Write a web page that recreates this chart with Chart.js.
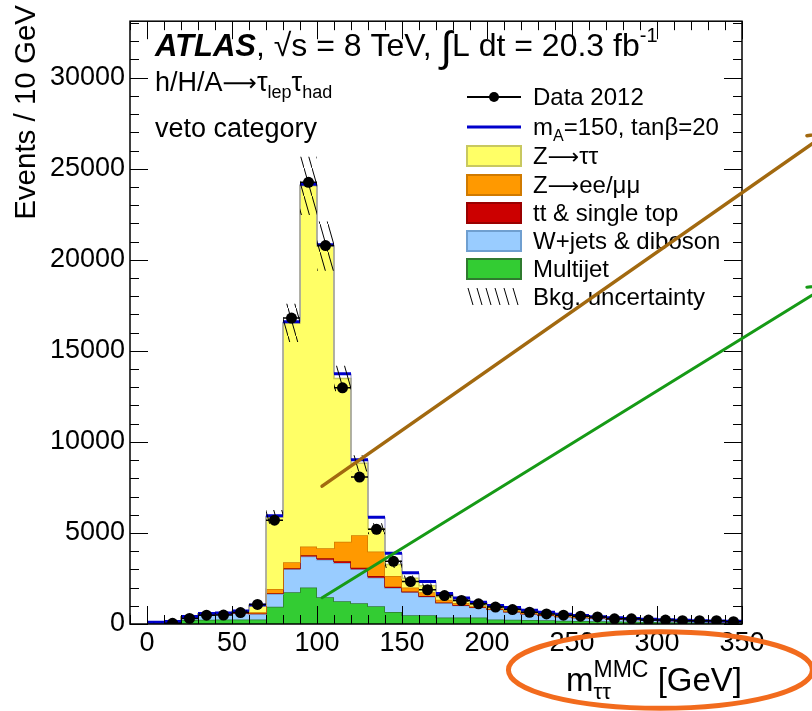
<!DOCTYPE html>
<html lang="en">
<head>
<meta charset="UTF-8" />
<title>h/H/A → τlep τhad, veto category</title>
<script src="https://cdn.jsdelivr.net/npm/chart.js@4"></script>
<style>
  html, body { margin: 0; padding: 0; background: #fff; }
  #wrap { width: 812px; height: 711px; position: relative; }
</style>
</head>
<body>
<div id="wrap"><canvas id="plot"></canvas></div>
<script>
  // 10 GeV bins
  const binEdges = [0, 10, 20, 30, 40, 50, 60, 70, 80, 90, 100, 110, 120, 130, 140, 150, 160, 170,
    180, 190, 200, 210, 220, 230, 240, 250, 260, 270, 280, 290, 300, 310, 320, 330, 340, 350];

  // background components, per bin (bottom of the stack first)
  const multijet = [0, 30, 215, 230, 250, 250, 250, 950, 1740, 2010, 1470, 1255, 1146, 970, 660, 480, 480, 360,
    360, 360, 250, 230, 220, 200, 180, 160, 150, 140, 120, 110, 100, 90, 80, 70, 60];
  const wjets = [90, 80, 145, 290, 280, 350, 310, 700, 1260, 1700, 2060, 2095, 1854, 1575, 1310, 1260, 1020, 790,
    660, 540, 540, 430, 330, 270, 220, 190, 160, 130, 120, 100, 85, 75, 65, 60, 55];
  const ttbar = [0, 0, 5, 5, 5, 10, 15, 40, 60, 70, 80, 90, 90, 90, 70, 50, 40, 30,
    25, 20, 15, 15, 10, 10, 10, 10, 5, 5, 5, 5, 5, 5, 5, 5, 5];
  const zll = [0, 10, 15, 15, 25, 30, 65, 230, 330, 470, 550, 1075, 1790, 1345, 600, 210, 200, 150,
    105, 60, 45, 55, 60, 50, 40, 30, 25, 20, 15, 10, 10, 5, 5, 5, 5];
  const ztautau = [0, 10, 20, 20, 30, 60, 390, 3960, 13140, 19810, 16590, 8960, 3940, 1255, 630, 510, 360, 170,
    140, 95, 70, 90, 60, 60, 50, 40, 30, 25, 20, 20, 15, 15, 10, 10, 10];
  // signal mA=150, tanb=20, stacked on top
  const signal = [10, 10, 10, 10, 10, 10, 20, 70, 70, 90, 80, 270, 200, 625, 620, 300, 230, 180,
    140, 125, 100, 80, 70, 55, 40, 30, 25, 20, 20, 15, 15, 10, 10, 10, 10];
  // total background uncertainty (absolute)
  const bkgUnc = [10, 15, 30, 40, 40, 50, 70, 380, 1050, 1600, 1350, 700, 450, 300, 200, 150, 120, 90,
    80, 65, 55, 50, 40, 35, 30, 26, 22, 20, 17, 15, 13, 12, 10, 9, 8];

  // data 2012
  const dataMass = [15, 25, 35, 45, 55, 65, 75, 85, 95, 105, 115, 125, 135, 145, 155, 165, 175,
    185, 195, 205, 215, 225, 235, 245, 255, 265, 275, 285, 295, 305, 315, 325, 335, 345];
  const dataEvents = [40, 306, 484, 490, 630, 1075, 5700, 16800, 24250, 20780, 12970, 8070, 5200, 3440, 2330, 1880, 1560,
    1290, 1110, 930, 790, 645, 555, 484, 430, 390, 285, 285, 215, 215, 180, 180, 180, 125];

  const xTickLabels = [0, 50, 100, 150, 200, 250, 300, 350];
  const yTickLabels = [0, 5000, 10000, 15000, 20000, 25000, 30000];

  const FONT = '"Liberation Sans", Arial, Helvetica, sans-serif';
  const ARROWFONT = '"DejaVu Sans", sans-serif';
  const ARROW = '⟶';
  const nb = binEdges.length - 1;
  const halfBin = 5;

  // cumulative stack
  const components = [multijet, wjets, ttbar, zll, ztautau];
  const cum = [];
  let run = new Array(nb).fill(0);
  components.forEach(c => { run = run.map((v, i) => v + c[i]); cum.push(run); });
  const totalBkg = cum[cum.length - 1];
  const totalSig = totalBkg.map((v, i) => v + signal[i]);

  function stepPoints(arr) {
    const pts = arr.map((v, i) => ({ x: binEdges[i], y: v }));
    pts.push({ x: binEdges[nb], y: arr[nb - 1] });
    return pts;
  }
  function flatTops(arr) {
    const pts = [];
    arr.forEach((v, i) => {
      pts.push({ x: binEdges[i], y: v }, { x: binEdges[i + 1], y: v }, { x: binEdges[i + 1], y: null });
    });
    return pts;
  }

  const ctx = document.getElementById('plot').getContext('2d');

  function makeHatch() {
    const c = document.createElement('canvas');
    c.width = 8; c.height = 28;
    const g = c.getContext('2d');
    g.strokeStyle = '#000';
    g.lineWidth = 1;
    g.beginPath();
    g.moveTo(-8, -28); g.lineTo(16, 56);
    g.stroke();
    return ctx.createPattern(c, 'repeat');
  }

  const stackStyle = [
    { label: 'Multijet', bg: '#33cc33', bd: '#2f7a2f' },
    { label: 'W+jets & diboson', bg: '#99ccff', bd: '#6f9fd0' },
    { label: 'tt & single top', bg: '#cc0000', bd: '#990000' },
    { label: 'Z→ee/μμ', bg: '#ff9900', bd: '#d07a00' },
    { label: 'Z→ττ', bg: '#ffff66', bd: '#c8c860' }
  ];

  const datasets = stackStyle.map((s, k) => ({
    label: s.label,
    data: stepPoints(cum[k]),
    stepped: true,
    fill: k === 0 ? 'origin' : '-1',
    backgroundColor: s.bg,
    borderColor: s.bd,
    borderWidth: 1.5,
    pointRadius: 0,
    order: 10 - k
  }));

  datasets.push({
    label: 'signal edges', data: stepPoints(totalSig), stepped: true, fill: false,
    borderColor: '#8c8cc8', borderWidth: 1, pointRadius: 0, order: 5
  });
  datasets.push({
    label: 'mA=150, tanb=20', data: flatTops(totalSig), fill: false, spanGaps: false,
    borderColor: '#0000cc', borderWidth: 3, pointRadius: 0, order: 4
  });
  datasets.push({
    label: 'unc low', data: stepPoints(totalBkg.map((v, i) => v - bkgUnc[i])), stepped: true, fill: false,
    borderWidth: 0, borderColor: 'rgba(0,0,0,0)', pointRadius: 0, order: 3
  });
  datasets.push({
    label: 'Bkg. uncertainty', data: stepPoints(totalBkg.map((v, i) => v + bkgUnc[i])), stepped: true, fill: '-1',
    backgroundColor: makeHatch(), borderWidth: 0, borderColor: 'rgba(0,0,0,0)', pointRadius: 0, order: 3
  });
  // data x-error bars
  const errPts = [];
  dataMass.forEach((m, i) => {
    errPts.push({ x: m - halfBin, y: dataEvents[i] }, { x: m + halfBin, y: dataEvents[i] }, { x: m + halfBin, y: null });
  });
  datasets.push({
    label: 'data err', data: errPts, fill: false, spanGaps: false,
    borderColor: '#000', borderWidth: 1.5, pointRadius: 0, order: 1
  });
  datasets.push({
    label: 'Data 2012', data: dataMass.map((m, i) => ({ x: m, y: dataEvents[i] })),
    showLine: false, pointRadius: 5.5, pointBackgroundColor: '#000', pointBorderColor: '#000',
    pointBorderWidth: 0, order: 0
  });

  function textRuns(c, x, y, parts) {
    parts.forEach(p => {
      c.font = (p.style || '') + ' ' + p.size + 'px ' + (p.fam || FONT);
      c.fillText(p.t, x, y + (p.dy || 0));
      x += c.measureText(p.t).width;
    });
    return x;
  }

  const framePlugin = {
    id: 'frame',
    afterDatasetsDraw(chart) {
      const c = chart.ctx, a = chart.chartArea;
      const xs = chart.scales.x, ys = chart.scales.y;
      c.save();
      c.strokeStyle = '#000';
      c.lineWidth = 1.5;
      c.strokeRect(a.left, a.top, a.right - a.left, a.bottom - a.top);
      c.lineWidth = 1;
      c.beginPath();
      for (let v = -10; v <= 350; v += 10) {
        const px = Math.round(xs.getPixelForValue(v)) + 0.5;
        const len = xTickLabels.includes(v) ? 18 : 9;
        c.moveTo(px, a.bottom); c.lineTo(px, a.bottom - len);
        c.moveTo(px, a.top); c.lineTo(px, a.top + len);
      }
      for (let v = 0; v <= ys.max; v += 1000) {
        const py = Math.round(ys.getPixelForValue(v)) + 0.5;
        const len = yTickLabels.includes(v) ? 18 : 9;
        c.moveTo(a.left, py); c.lineTo(a.left + len, py);
        c.moveTo(a.right, py); c.lineTo(a.right - len, py);
      }
      c.stroke();
      c.restore();
    },
    afterDraw(chart) {
      const c = chart.ctx, a = chart.chartArea;
      const xs = chart.scales.x, ys = chart.scales.y;
      c.save();
      c.fillStyle = '#000';
      c.textBaseline = 'alphabetic';

      // y axis title
      c.save();
      c.translate(35, 5);
      c.rotate(-Math.PI / 2);
      c.textAlign = 'right';
      c.font = '29.5px ' + FONT;
      c.fillText('Events / 10 GeV', 0, 0);
      c.restore();

      // labels top-left
      textRuns(c, 155, 56, [
        { t: 'ATLAS', size: 31, style: 'italic bold' },
        { t: ', √s = 8 TeV, ', size: 32 },
        { t: '∫', size: 42, dy: 5 },
        { t: 'L dt = 20.3 fb', size: 32 },
        { t: '-1', size: 20, dy: -14 }
      ]);
      textRuns(c, 155, 91, [
        { t: 'h/H/A', size: 27 }, { t: ARROW, size: 24, fam: ARROWFONT }, { t: 'τ', size: 27 }, { t: 'lep', size: 18, dy: 7 },
        { t: 'τ', size: 27 }, { t: 'had', size: 18, dy: 7 }
      ]);
      textRuns(c, 155, 137, [{ t: 'veto category', size: 27 }]);

      // x axis title
      c.font = '33px ' + FONT;
      const w1 = c.measureText(' [GeV]').width;
      const wm = c.measureText('m').width;
      c.font = '23px ' + FONT;
      const wSup = c.measureText('MMC').width;
      const xStart = a.right - w1 - wSup - wm;
      textRuns(c, xStart, 691, [{ t: 'm', size: 33 }]);
      textRuns(c, xStart + wm, 699, [{ t: 'ττ', size: 22 }]);
      textRuns(c, xStart + wm, 677, [{ t: 'MMC', size: 23 }]);
      textRuns(c, xStart + wm + wSup, 691, [{ t: ' [GeV]', size: 33 }]);

      // legend
      const rows = [97, 127, 156, 185, 213, 241, 269, 297];
      const x0 = 467, x1 = 521, tx = 533;
      c.lineWidth = 2;
      c.strokeStyle = '#000';
      c.beginPath(); c.moveTo(x0, rows[0]); c.lineTo(x1, rows[0]); c.stroke();
      c.beginPath(); c.arc((x0 + x1) / 2, rows[0], 5, 0, Math.PI * 2); c.fill();
      c.strokeStyle = '#0000cc'; c.lineWidth = 3;
      c.beginPath(); c.moveTo(x0, rows[1]); c.lineTo(x1, rows[1]); c.stroke();
      const boxes = [stackStyle[4], stackStyle[3], stackStyle[2], stackStyle[1], stackStyle[0]];
      boxes.forEach((s, k) => {
        const yc = rows[k + 2];
        c.fillStyle = s.bg;
        c.fillRect(x0, yc - 10, x1 - x0, 20);
        c.strokeStyle = s.bd; c.lineWidth = 2;
        c.strokeRect(x0, yc - 10, x1 - x0, 20);
      });
      c.strokeStyle = '#000'; c.lineWidth = 1;
      c.beginPath();
      for (let k = 0; k < 6; k++) {
        const hx = x0 + 1 + k * 9;
        c.moveTo(hx, rows[7] - 9); c.lineTo(hx + 5, rows[7] + 8);
      }
      c.stroke();
      c.fillStyle = '#000';
      const LS = 24;
      const lab = [
        [{ t: 'Data 2012', size: LS }],
        [{ t: 'm', size: LS }, { t: 'A', size: 16, dy: 6 }, { t: '=150, tanβ=20', size: LS }],
        [{ t: 'Z', size: LS }, { t: ARROW, size: 22, fam: ARROWFONT }, { t: 'ττ', size: LS }],
        [{ t: 'Z', size: LS }, { t: ARROW, size: 22, fam: ARROWFONT }, { t: 'ee/μμ', size: LS }],
        [{ t: 'tt & single top', size: LS }],
        [{ t: 'W+jets & diboson', size: LS }],
        [{ t: 'Multijet', size: LS }],
        [{ t: 'Bkg. uncertainty', size: LS }]
      ];
      lab.forEach((parts, k) => textRuns(c, tx, rows[k] + 8, parts));

      // hand-drawn annotations (in data coordinates)
      const P = (x, y) => [xs.getPixelForValue(x), ys.getPixelForValue(y)];
      function arrow(from, to, color, width) {
        const [ax, ay] = P(from[0], from[1]);
        const [bx, by] = P(to[0], to[1]);
        const ang = Math.atan2(by - ay, bx - ax);
        c.strokeStyle = color; c.lineWidth = width; c.lineCap = 'round';
        c.beginPath(); c.moveTo(ax, ay); c.lineTo(bx, by);
        const L = 22, th = 0.45;
        c.moveTo(bx, by); c.lineTo(bx - L * Math.cos(ang - th), by - L * Math.sin(ang - th));
        c.moveTo(bx, by); c.lineTo(bx - L * Math.cos(ang + th), by - L * Math.sin(ang + th));
        c.stroke();
      }
      arrow([103, 7570], [401, 27000], '#a2690f', 3.5);
      arrow([103, 1440], [401, 18620], '#169a16', 3);

      const [ecx, ecy] = P(302, -2530);
      const erx = xs.getPixelForValue(302 + 89.4) - ecx;
      const ery = ecy - ys.getPixelForValue(-2530 + 2100);
      c.strokeStyle = '#f26b1d'; c.lineWidth = 5;
      c.beginPath(); c.ellipse(ecx, ecy, erx, ery, 0, 0, Math.PI * 2); c.stroke();
      c.restore();
    }
  };

  new Chart(ctx, {
    type: 'line',
    data: { datasets },
    options: {
      responsive: true,
      maintainAspectRatio: false,
      animation: false,
      layout: { padding: { left: 0, top: 9, right: 70, bottom: 0 } },
      plugins: { legend: { display: false }, tooltip: { enabled: false } },
      scales: {
        x: {
          type: 'linear', min: -10, max: 350,
          grid: { display: false, drawTicks: false, tickLength: 0 }, border: { display: false },
          afterBuildTicks: s => { s.ticks = xTickLabels.map(v => ({ value: v })); },
          afterFit: s => { s.height = 87; },
          ticks: { color: '#000', font: { size: 27, family: FONT }, padding: 3, maxRotation: 0, autoSkip: false,
            callback: v => String(v) }
        },
        y: {
          type: 'linear', min: 0, max: 33100,
          grid: { display: false, drawTicks: false, tickLength: 0 }, border: { display: false },
          afterBuildTicks: s => { s.ticks = yTickLabels.map(v => ({ value: v })); },
          afterFit: s => { s.width = 130; },
          ticks: { color: '#000', font: { size: 27, family: FONT }, padding: 5, callback: v => String(v) }
        }
      }
    },
    plugins: [framePlugin]
  });
</script>
</body>
</html>
